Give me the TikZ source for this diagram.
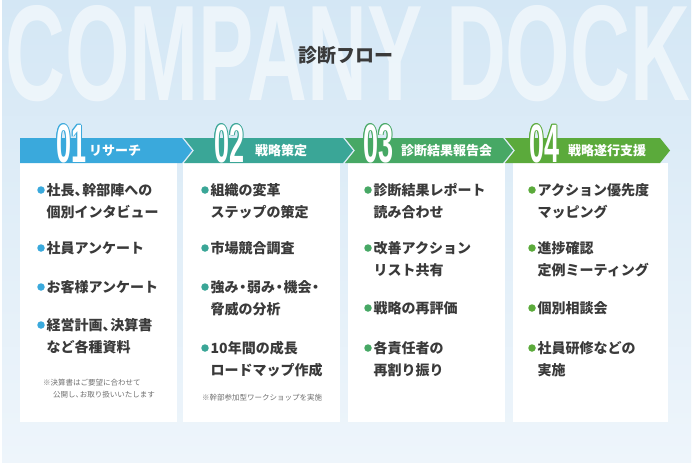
\documentclass[tikz,border=0pt]{standalone}
\usepackage{fontspec}
\setmainfont{Noto Sans CJK JP}
\newfontfamily\numfont{Liberation Sans}
\usepackage{tikz}
\definecolor{bgtop}{HTML}{D4E7F5}
\definecolor{bgbot}{HTML}{EEF5FB}
\definecolor{cA}{HTML}{3AA9DC}
\definecolor{cB}{HTML}{3AA697}
\definecolor{cC}{HTML}{47A865}
\definecolor{cD}{HTML}{5BAA3B}
\definecolor{ink}{HTML}{3A3A3A}
\definecolor{notegray}{HTML}{707070}
\tikzset{
  item/.style={anchor=base west, inner sep=0pt, text=ink, font=\fontsize{14}{22}\selectfont\bfseries},
  dot/.style={circle, inner sep=0pt, minimum size=7.5pt, fill=#1},
  note/.style={anchor=base west, inner sep=0pt, text=notegray, font=\fontsize{7.5}{12.5}\selectfont},
  head/.style={anchor=west, inner sep=0pt, text=white, font=\fontsize{13}{13}\selectfont\bfseries},
  num/.style={anchor=base west, inner sep=0pt},
}
\newcommand{\bignum}[1]{\scalebox{0.5}[1]{\numfont\bfseries\fontsize{54}{54}\selectfont #1}}
\newcommand{\lines}[1]{\begin{tabular}[t]{@{}l@{}}#1\end{tabular}}
\newcommand{\ten}{\makebox[0.55em][l]{、}}
\newcommand{\nak}{\makebox[0.6em][c]{・}}
\begin{document}
\begin{tikzpicture}[x=1pt, y=-1pt]
\useasboundingbox (0,0) rectangle (693,467);
\fill[white] (0,0) rectangle (693,467);
\shade[top color=bgtop, bottom color=bgbot] (2,0) rectangle (691,462);
\node[anchor=north west, inner sep=0pt, text=white, opacity=0.55] (mark) at (5,5)
  {\resizebox{685pt}{95pt}{\numfont\bfseries COMPANY DOCK}};
\node[text=ink, font=\fontsize{19}{19}\selectfont\bfseries] (title) at (346,55) {診断フロー};
\foreach \i/\xl/\xr in {1/20/177, 2/183/340, 3/348/505, 4/513/668}{
\fill[white] (\xl,163) rectangle (\xr,422);
}
\foreach \i/\xl/\xt/\nd/\tone in {1/20/192/0/cA, 2/184/353/10/cB, 3/345/513/10/cC, 4/505/670/10/cD}{
\fill[\tone] (\xl,138) -- (\xt-10,138) -- (\xt,150.5) -- (\xt-10,163) -- (\xl,163) -- (\xl+\nd,150.5) -- cycle;
}
\foreach \i/\nx/\lx/\tone/\lbl in {1/56/89/cA/リサーチ, 2/214/255/cB/戦略策定, 3/363/401/cC/診断結果報告会, 4/529/568/cD/戦略遂行支援}{
\foreach \ox/\oy [count=\m] in {-0.9/0, 0.9/0, 0/-0.9, 0/0.9, -0.65/-0.65, 0.65/0.65, -0.65/0.65, 0.65/-0.65}{
\node[num, text=\tone] (o\i-\m) at (\nx+\ox,162+\oy) {\bignum{0\i}};
}
\node[num, text=white] (n\i) at (\nx,162) {\bignum{0\i}};
\node[head] (h\i) at (\lx,151) {\lbl};
}
\foreach \bx/\y/\tone/\txt [count=\k] in {
  41/190/cA/{社長\ten 幹部陣への\\個別インタビュー},
  41/248/cA/{社員アンケート},
  41/287/cA/{お客様アンケート},
  41/325/cA/{経営計画\ten 決算書\\など各種資料},
  205/190/cB/{組織の変革\\ステップの策定},
  205/248/cB/{市場競合調査},
  205/287/cB/{強み\nak 弱み\nak 機会\nak\\脅威の分析},
  205/348/cB/{10年間の成長\\ロードマップ作成},
  368/190/cC/{診断結果レポート\\読み合わせ},
  368/248/cC/{改善アクション\\リスト共有},
  368/308/cC/{戦略の再評価},
  368/348/cC/{各責任者の\\再割り振り},
  532/190/cD/{アクション優先度\\マッピング},
  532/248/cD/{進捗確認\\定例ミーティング},
  532/308/cD/{個別相談会},
  532/348/cD/{社員研修などの\\実施}}{
\node[dot=\tone] (d\k) at (\bx,\y) {};
\node[item] (t\k) at (\bx+5.5,\y+5.3) {\lines{\txt}};
}
\node[note] (note1) at (43,385) {\lines{※決算書はご要望に合わせて\\\hspace{10pt}公開し\ten お取り扱いいたします}};
\node[note] (note2) at (202,400) {※幹部参加型ワークショップを実施};
\end{tikzpicture}
\end{document}
